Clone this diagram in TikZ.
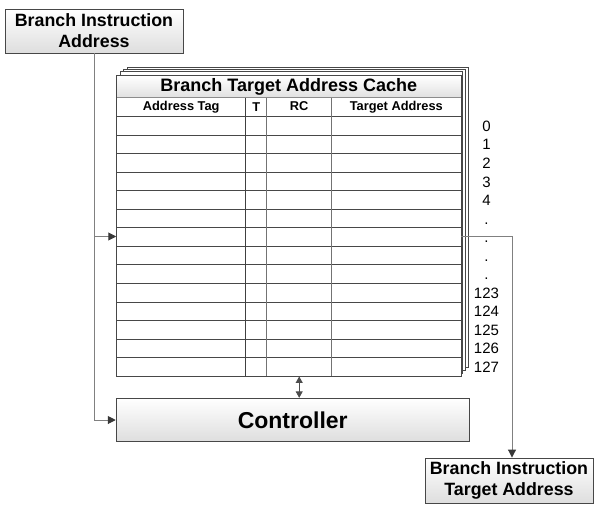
\documentclass[tikz,border=0pt]{standalone}
\usepackage{fontspec}
\setmainfont{Liberation Sans}
\usetikzlibrary{arrows.meta}
\begin{document}
\begin{tikzpicture}[x=1pt,y=-1pt,
  box/.style={draw=black!72, line width=0.9pt, top color=white, bottom color=black!13, inner sep=0pt, align=center},
  layer/.style={draw=black!72, line width=0.8pt, fill=white},
  rowline/.style={draw=black!72, line width=0.8pt},
  colline/.style={draw=black!55, line width=0.9pt},
  conn/.style={draw=black!50, line width=1pt, -{Triangle[length=8pt,width=8pt,color=black!78]}},
  dconn/.style={draw=black!70, line width=0.9pt, {Triangle[length=6.5pt,width=7pt]}-{Triangle[length=6.5pt,width=7pt]}},
  hdr/.style={font=\bfseries\fontsize{12.8}{14}\selectfont, inner sep=0pt},
  idx/.style={font=\fontsize{15}{17}\selectfont, inner sep=0pt, anchor=base}]
\useasboundingbox (0,0) rectangle (596,505);

% input box
\node[box, minimum width=178pt, minimum height=44pt,
      font=\bfseries\fontsize{17.8}{21}\selectfont] (bia) at (94,31) {Branch Instruction\\Address};

% stacked layers of the cache
\draw[layer] (127.5,67.5) rectangle (468.5,367);
\draw[layer] (123.5,69.5) rectangle (465.2,370);
\draw[layer] (120,71.5) rectangle (462.5,373);

% front table
\node[draw=black!72, line width=0.9pt, fill=white, minimum width=344.3pt, minimum height=301pt, inner sep=0pt] (btac) at (288.85,225.5) {};
\shade[top color=white, bottom color=black!12] (117.2,75.5) rectangle (460.5,97.7);
\draw[draw=black!72, line width=0.9pt] (116.7,75) rectangle (461,376);
\draw[draw=black!45, line width=1.4pt] (117.2,97.7) -- (460.5,97.7);
\node[font=\bfseries\fontsize{18}{20}\selectfont, inner sep=0pt] (title) at (288.85,86.6) {Branch Target Address Cache};

% header
\node[hdr] (hAT) at (181.2,107.4) {Address Tag};
\node[hdr] (hT) at (256.2,107.4) {T};
\node[hdr] (hRC) at (299.2,106.2) {RC};
\node[hdr] (hTA) at (396.3,107.4) {Target Address};

% rows
\foreach \i in {0,...,13} {
  \draw[rowline] (116.7,{116.7+18.52*\i}) -- (461,{116.7+18.52*\i});
}
% columns
\draw[draw=black!75, line width=0.9pt] (245.7,98.4) -- (245.7,376);
\draw[colline] (266.7,98.4) -- (266.7,376);
\draw[colline] (331.7,98.4) -- (331.7,376);

% index labels
\foreach \t [count=\k from 0] in {0,1,2,3,4,.,.,.,.,123,124,125,126,127} {
  \node[idx] at (486.5,{116.7+18.52*\k+9.26+5.5}) {\t};
}

% controller
\node[box, minimum width=353pt, minimum height=43.4pt,
      font=\bfseries\fontsize{23}{26}\selectfont] (ctrl) at (292.7,420) {Controller};

% output box
\node[box, minimum width=168pt, minimum height=45pt,
      font=\bfseries\fontsize{17.8}{21}\selectfont] (bita) at (509,480.5) {Branch Instruction\\Target Address};

% connectors
\coordinate (r6) at (0,236.5);
\coordinate (turn) at (512,236.5);
\coordinate (rc) at (299.2,0);
\draw[conn] (bia.south) |- (ctrl.west);
\draw[conn] (bia.south |- r6) -- (btac.west |- r6);
\draw[conn] (btac.east |- r6) -- (turn) -- (turn |- bita.north);
\draw[dconn] (rc |- btac.south) -- (rc |- ctrl.north);
\end{tikzpicture}
\end{document}
